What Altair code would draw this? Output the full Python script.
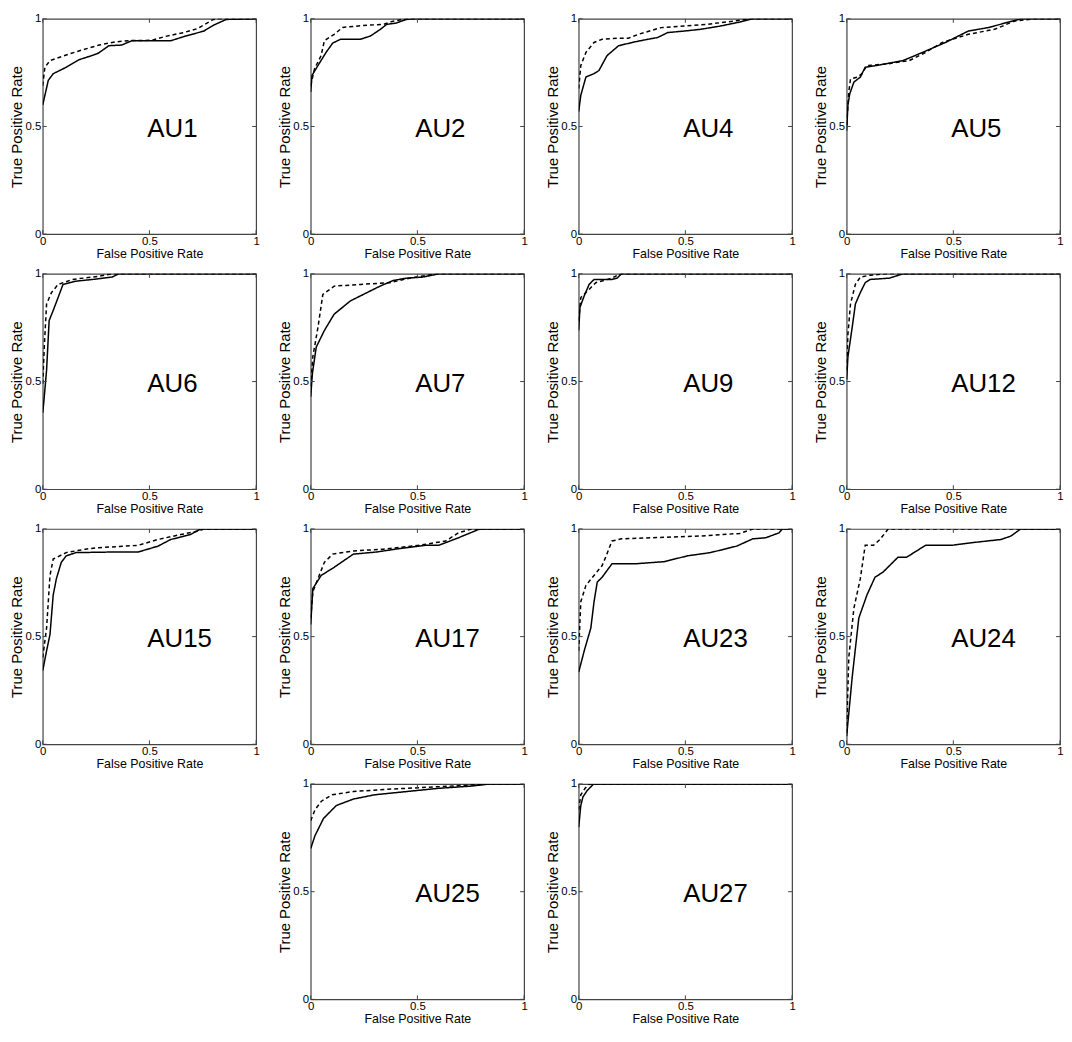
import altair as alt
import pandas as pd

# ---------------- data ----------------
TICKS = [0, 0.5, 1]

au1_solid_fpr = [0, 0.026, 0.049, 0.11, 0.17, 0.233, 0.26, 0.31, 0.37, 0.417, 0.51, 0.60, 0.66, 0.755, 0.80, 0.86, 1.0]
au1_solid_tpr = [0.60, 0.714, 0.745, 0.775, 0.81, 0.83, 0.84, 0.875, 0.878, 0.898, 0.898, 0.898, 0.917, 0.943, 0.97, 0.997, 1.0]
au1_dash_fpr = [0, 0.01, 0.034, 0.11, 0.187, 0.264, 0.34, 0.417, 0.51, 0.57, 0.66, 0.724, 0.80, 0.816, 1.0]
au1_dash_tpr = [0.69, 0.775, 0.806, 0.832, 0.856, 0.878, 0.893, 0.899, 0.90, 0.917, 0.936, 0.954, 0.997, 1.0, 1.0]

au2_solid_fpr = [0, 0.006, 0.034, 0.072, 0.103, 0.14, 0.233, 0.28, 0.325, 0.356, 0.40, 0.448, 0.48, 1.0]
au2_solid_tpr = [0.66, 0.737, 0.783, 0.844, 0.887, 0.905, 0.905, 0.92, 0.95, 0.974, 0.98, 0.997, 1, 1]
au2_dash_fpr = [0, 0.018, 0.049, 0.064, 0.11, 0.15, 0.264, 0.34, 0.386, 0.45, 1.0]
au2_dash_tpr = [0.69, 0.768, 0.83, 0.898, 0.928, 0.96, 0.97, 0.974, 0.989, 1, 1]

au4_solid_fpr = [0, 0.01, 0.034, 0.072, 0.095, 0.133, 0.187, 0.264, 0.325, 0.37, 0.417, 0.494, 0.57, 0.663, 0.755, 0.816, 1]
au4_solid_tpr = [0.569, 0.645, 0.73, 0.745, 0.76, 0.829, 0.875, 0.893, 0.905, 0.913, 0.936, 0.943, 0.951, 0.966, 0.985, 1, 1]
au4_dash_fpr = [0, 0.01, 0.034, 0.072, 0.11, 0.187, 0.233, 0.28, 0.386, 0.494, 0.6, 0.724, 0.8, 1]
au4_dash_tpr = [0.676, 0.783, 0.844, 0.89, 0.905, 0.91, 0.91, 0.928, 0.959, 0.966, 0.974, 0.989, 1, 1]

au5_solid_fpr = [0, 0.006, 0.015, 0.034, 0.064, 0.087, 0.14, 0.264, 0.356, 0.463, 0.57, 0.663, 0.816, 1]
au5_solid_tpr = [0.48, 0.6, 0.653, 0.706, 0.729, 0.775, 0.783, 0.806, 0.844, 0.89, 0.943, 0.959, 1, 1]
au5_dash_fpr = [0, 0.01, 0.018, 0.049, 0.072, 0.095, 0.187, 0.294, 0.37, 0.448, 0.57, 0.693, 0.785, 0.877, 1]
au5_dash_tpr = [0.508, 0.66, 0.72, 0.729, 0.745, 0.783, 0.79, 0.806, 0.844, 0.89, 0.928, 0.951, 0.989, 1, 1]

au6_solid_fpr = [0, 0.006, 0.018, 0.03, 0.049, 0.072, 0.095, 0.156, 0.233, 0.325, 0.356, 1]
au6_solid_tpr = [0.355, 0.416, 0.553, 0.783, 0.83, 0.89, 0.951, 0.966, 0.974, 0.985, 1, 1]
au6_dash_fpr = [0, 0.008, 0.018, 0.041, 0.072, 0.14, 0.264, 0.325, 1]
au6_dash_tpr = [0.49, 0.675, 0.86, 0.913, 0.951, 0.974, 0.989, 1, 1]

au7_solid_fpr = [0, 0.008, 0.026, 0.064, 0.11, 0.187, 0.264, 0.325, 0.386, 0.448, 0.525, 0.6, 1]
au7_solid_tpr = [0.43, 0.538, 0.66, 0.737, 0.813, 0.875, 0.913, 0.943, 0.969, 0.98, 0.985, 1, 1]
au7_dash_fpr = [0, 0.01, 0.034, 0.057, 0.11, 0.233, 0.37, 0.463, 0.57, 0.59, 1]
au7_dash_tpr = [0.477, 0.615, 0.752, 0.905, 0.943, 0.951, 0.959, 0.98, 0.997, 1, 1]

au9_solid_fpr = [0, 0.006, 0.026, 0.049, 0.072, 0.156, 0.18, 0.2, 1]
au9_solid_tpr = [0.737, 0.844, 0.898, 0.951, 0.974, 0.974, 0.98, 1, 1]
au9_dash_fpr = [0, 0.01, 0.041, 0.08, 0.156, 0.187, 0.2, 1]
au9_dash_tpr = [0.783, 0.89, 0.92, 0.959, 0.98, 0.997, 1, 1]

au12_solid_fpr = [0, 0.006, 0.026, 0.041, 0.064, 0.087, 0.11, 0.2, 0.264, 1]
au12_solid_tpr = [0.508, 0.615, 0.752, 0.86, 0.913, 0.959, 0.974, 0.98, 1, 1]
au12_dash_fpr = [0, 0.006, 0.018, 0.041, 0.064, 0.11, 0.187, 1]
au12_dash_tpr = [0.554, 0.72, 0.86, 0.951, 0.985, 0.994, 1, 1]

au15_solid_fpr = [0, 0.018, 0.034, 0.049, 0.064, 0.087, 0.11, 0.156, 0.34, 0.448, 0.54, 0.6, 0.693, 0.74, 1]
au15_solid_tpr = [0.342, 0.434, 0.51, 0.693, 0.769, 0.845, 0.875, 0.89, 0.893, 0.893, 0.92, 0.951, 0.974, 1, 1]
au15_dash_fpr = [0, 0.018, 0.034, 0.049, 0.11, 0.2, 0.264, 0.448, 0.54, 0.647, 0.724, 0.755, 1]
au15_dash_tpr = [0.403, 0.54, 0.784, 0.86, 0.89, 0.906, 0.913, 0.924, 0.951, 0.974, 0.989, 1, 1]

au17_solid_fpr = [0, 0.01, 0.049, 0.11, 0.2, 0.31, 0.417, 0.54, 0.6, 0.693, 0.785, 0.8, 1]
au17_solid_tpr = [0.556, 0.723, 0.784, 0.822, 0.883, 0.893, 0.909, 0.924, 0.924, 0.959, 0.997, 1, 1]
au17_dash_fpr = [0, 0.01, 0.034, 0.064, 0.103, 0.2, 0.34, 0.51, 0.632, 0.693, 0.755, 1]
au17_dash_tpr = [0.586, 0.708, 0.769, 0.845, 0.883, 0.898, 0.906, 0.924, 0.944, 0.982, 1, 1]

au23_solid_fpr = [0, 0.026, 0.057, 0.072, 0.087, 0.11, 0.156, 0.264, 0.40, 0.51, 0.617, 0.74, 0.816, 0.877, 0.939, 0.954, 1]
au23_solid_tpr = [0.335, 0.434, 0.54, 0.662, 0.753, 0.776, 0.838, 0.838, 0.848, 0.875, 0.89, 0.92, 0.954, 0.959, 0.982, 1, 1]
au23_dash_fpr = [0, 0.01, 0.034, 0.072, 0.11, 0.126, 0.156, 0.2, 0.34, 0.57, 0.755, 0.816, 1]
au23_dash_tpr = [0.434, 0.662, 0.738, 0.784, 0.83, 0.868, 0.944, 0.954, 0.959, 0.967, 0.979, 1, 1]

au24_solid_fpr = [0, 0.026, 0.057, 0.095, 0.133, 0.17, 0.24, 0.28, 0.37, 0.494, 0.586, 0.724, 0.77, 0.816, 1]
au24_solid_tpr = [0.038, 0.312, 0.586, 0.693, 0.776, 0.799, 0.868, 0.868, 0.924, 0.924, 0.936, 0.951, 0.967, 1, 1]
au24_dash_fpr = [0, 0.01, 0.034, 0.064, 0.087, 0.126, 0.156, 0.195, 1]
au24_dash_tpr = [0.053, 0.403, 0.632, 0.769, 0.924, 0.924, 0.951, 1, 1]

au25_solid_fpr = [0, 0.02, 0.06, 0.12, 0.2, 0.3, 0.45, 0.6, 0.75, 0.84, 1]
au25_solid_tpr = [0.70, 0.76, 0.84, 0.9, 0.93, 0.95, 0.965, 0.98, 0.99, 1, 1]
au25_dash_fpr = [0, 0.02, 0.05, 0.1, 0.2, 0.35, 0.55, 0.75, 0.8, 1]
au25_dash_tpr = [0.83, 0.88, 0.92, 0.95, 0.965, 0.975, 0.985, 0.995, 1, 1]

au27_solid_fpr = [0, 0.01, 0.02, 0.04, 0.07, 1]
au27_solid_tpr = [0.8, 0.9, 0.94, 0.97, 1, 1]
au27_dash_fpr = [0, 0.01, 0.03, 0.05, 1]
au27_dash_tpr = [0.88, 0.95, 0.98, 1, 1]

PANELS = [
    ("AU1", au1_solid_fpr, au1_solid_tpr, au1_dash_fpr, au1_dash_tpr),
    ("AU2", au2_solid_fpr, au2_solid_tpr, au2_dash_fpr, au2_dash_tpr),
    ("AU4", au4_solid_fpr, au4_solid_tpr, au4_dash_fpr, au4_dash_tpr),
    ("AU5", au5_solid_fpr, au5_solid_tpr, au5_dash_fpr, au5_dash_tpr),
    ("AU6", au6_solid_fpr, au6_solid_tpr, au6_dash_fpr, au6_dash_tpr),
    ("AU7", au7_solid_fpr, au7_solid_tpr, au7_dash_fpr, au7_dash_tpr),
    ("AU9", au9_solid_fpr, au9_solid_tpr, au9_dash_fpr, au9_dash_tpr),
    ("AU12", au12_solid_fpr, au12_solid_tpr, au12_dash_fpr, au12_dash_tpr),
    ("AU15", au15_solid_fpr, au15_solid_tpr, au15_dash_fpr, au15_dash_tpr),
    ("AU17", au17_solid_fpr, au17_solid_tpr, au17_dash_fpr, au17_dash_tpr),
    ("AU23", au23_solid_fpr, au23_solid_tpr, au23_dash_fpr, au23_dash_tpr),
    ("AU24", au24_solid_fpr, au24_solid_tpr, au24_dash_fpr, au24_dash_tpr),
    ("AU25", au25_solid_fpr, au25_solid_tpr, au25_dash_fpr, au25_dash_tpr),
    ("AU27", au27_solid_fpr, au27_solid_tpr, au27_dash_fpr, au27_dash_tpr),
]

# ---------------- styling ----------------
W, H = 215, 217
FONT = "Liberation Sans"
FRAME = "#444444"
TXT = "#000000"

xscale = alt.Scale(domain=[0, 1], nice=False, zero=False, padding=0)
yscale = alt.Scale(domain=[0, 1], nice=False, zero=False, padding=0)

x_axis = alt.Axis(values=TICKS, format="~g", title="False Positive Rate", grid=False,
                  ticks=False, domain=False, labelFlush=False, labelFont=FONT,
                  labelFontSize=11.5, labelPadding=1, labelColor=TXT, titleFont=FONT,
                  titleFontSize=12.5, titleFontWeight="normal", titlePadding=1, titleColor=TXT)
y_axis = alt.Axis(values=TICKS, format="~g", title="True Positive Rate", grid=False,
                  ticks=False, domain=False, labelFlush=False, labelFont=FONT,
                  labelFontSize=11.5, labelPadding=2, labelColor=TXT, titleFont=FONT,
                  titleFontSize=15, titleFontWeight="normal", titlePadding=0, titleColor=TXT)

X = alt.X("fpr:Q", scale=xscale, axis=x_axis)
Y = alt.Y("tpr:Q", scale=yscale, axis=y_axis)


def panel(name, sf, st, dfp, dtp):
    rows = []
    for i, (a, b) in enumerate(zip(sf, st)):
        rows.append({"fpr": a, "tpr": b, "series": "solid", "k": i})
    for i, (a, b) in enumerate(zip(dfp, dtp)):
        rows.append({"fpr": a, "tpr": b, "series": "dashed", "k": i})
    data = pd.DataFrame(rows)

    lines = alt.Chart(data).mark_line(color="black", strokeWidth=1.5, clip=True).encode(
        x=X, y=Y,
        strokeDash=alt.StrokeDash("series:N",
                                  scale=alt.Scale(domain=["solid", "dashed"], range=[[1, 0], [4, 3]]),
                                  legend=None),
        detail="series:N",
        order="k:Q",
    )
    tdf = pd.DataFrame({"fpr": TICKS, "tpr": TICKS})
    tb = alt.Chart(tdf).mark_rule(color=FRAME, strokeWidth=1).encode(
        x=X, y=alt.value(H), y2=alt.value(H - 4))
    tt = alt.Chart(tdf).mark_rule(color=FRAME, strokeWidth=1).encode(
        x=X, y=alt.value(0), y2=alt.value(4))
    tl = alt.Chart(tdf).mark_rule(color=FRAME, strokeWidth=1).encode(
        y=Y, x=alt.value(0), x2=alt.value(4))
    tr = alt.Chart(tdf).mark_rule(color=FRAME, strokeWidth=1).encode(
        y=Y, x=alt.value(W), x2=alt.value(W - 4))
    lab = alt.Chart(pd.DataFrame({"fpr": [0.49], "tpr": [0.49], "label": [name]})).mark_text(
        align="left", baseline="middle", font=FONT, fontSize=26, color=TXT).encode(
        x=X, y=Y, text="label:N")
    return alt.layer(lines, tb, tt, tl, tr, lab).properties(
        width=W, height=H, view=alt.ViewBackground(stroke=FRAME, strokeWidth=1.2))


def empty():
    return alt.Chart(pd.DataFrame({"fpr": [0.0]})).mark_point(opacity=0).encode(
        x=alt.X("fpr:Q", axis=None), y=alt.Y("fpr:Q", axis=None)
    ).properties(width=W, height=H, view=alt.ViewBackground(stroke="transparent"))


cells = [panel(*p) for p in PANELS[:12]]
cells += [empty(), panel(*PANELS[12]), panel(*PANELS[13])]

chart = alt.concat(*cells, columns=4, spacing={"row": 40, "column": 55}, bounds="flush",
                   padding={"left": 1, "top": 0, "right": 0, "bottom": 0}).configure(
    background="white")

chart.save("out.html", embed_options={"renderer": "svg", "actions": False})
